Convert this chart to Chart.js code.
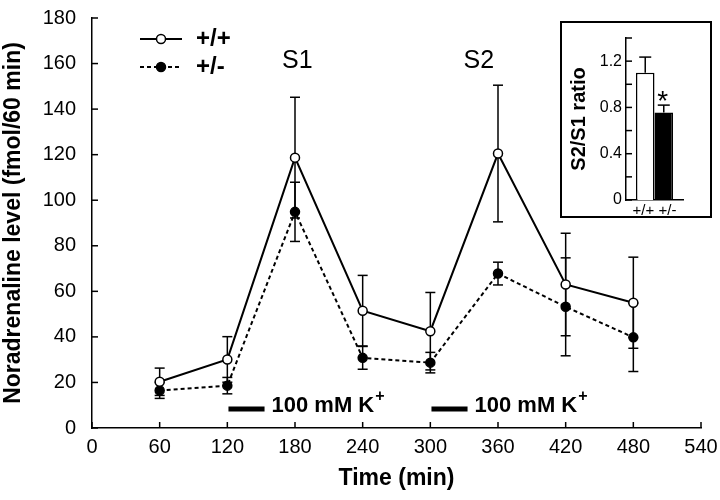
<!DOCTYPE html>
<html><head><meta charset="utf-8">
<script src="https://cdn.jsdelivr.net/npm/chart.js@4"></script>
<style>
html,body{margin:0;padding:0;background:#fff;}
#wrap{position:relative;width:720px;height:500px;overflow:hidden;}
#main{position:absolute;left:0;top:0;}
#inset{position:absolute;left:560px;top:21px;width:148px;height:193px;border:2px solid #000;background:#fff;}
#insetCanvas{position:absolute;left:0;top:0;}
</style></head><body>
<div id="wrap"><canvas id="main" width="720" height="500"></canvas>
<div id="inset"><canvas id="insetCanvas" width="148" height="193"></canvas></div></div>
<script>
// ---- data ----
const timeMin = [60, 120, 180, 240, 300, 360, 420, 480];
const wildType = [20.3, 30.1, 118.7, 51.5, 42.5, 120.5, 63, 55];       // +/+
const wildTypeErr = [6, 10, 26.5, 15.5, 17, 30, 22.5, 20];
const hetero = [16.5, 18.6, 94.9, 30.8, 28.7, 67.8, 53.2, 39.8];       // +/-
const heteroErr = [3.5, 3.6, 13, 5, 4.5, 5, 21.5, 15];
const seriesNames = ['+/+', '+/-'];
const xTicks = [0, 60, 120, 180, 240, 300, 360, 420, 480, 540];
const yTicks = [0, 20, 40, 60, 80, 100, 120, 140, 160, 180];
const peakLabels = ['S1', 'S2'];
const peakLabelTimes = [182, 343];
const peakLabelLevel = 160;
const kPulses = [[121, 153], [301, 333]];
const kPulseLevel = 8.3;
const kPulseText = '100 mM K';
// inset
const ratioGroups = ['+/+', '+/-'];
const ratioValues = [1.10, 0.756];
const ratioErr = [0.135, 0.064];
const ratioTicks = [0, 0.2, 0.4, 0.6, 0.8, 1.0, 1.2, 1.4];
const ratioLabelled = [0, 0.4, 0.8, 1.2];

const FONT = "'Liberation Sans', Arial, Helvetica, sans-serif";

const insideTicks = {
  id: 'insideTicks',
  afterDraw(chart, args, opts) {
    const ctx = chart.ctx; const ca = chart.chartArea;
    ctx.save(); ctx.strokeStyle = '#000'; ctx.lineWidth = 1.5;
    const xs = chart.scales.x, ys = chart.scales.y;
    if (opts.x) opts.x.forEach(v => { const p = xs.getPixelForValue(v); ctx.beginPath(); ctx.moveTo(p, ca.bottom); ctx.lineTo(p, ca.bottom - opts.len); ctx.stroke(); });
    if (opts.y) opts.y.forEach(v => { const p = ys.getPixelForValue(v); ctx.beginPath(); ctx.moveTo(ca.left, p); ctx.lineTo(ca.left + opts.len, p); ctx.stroke(); });
    ctx.restore();
  }
};

const errorBars = {
  id: 'errorBars',
  beforeDatasetsDraw(chart, args, opts) {
    const ctx = chart.ctx; const ys = chart.scales.y;
    ctx.save(); ctx.strokeStyle = '#000'; ctx.lineWidth = 1.5;
    chart.data.datasets.forEach((ds, di) => {
      const meta = chart.getDatasetMeta(di);
      const vals = ds.data.map(d => typeof d === 'object' ? d.y : d);
      ds.errors.forEach((e, i) => {
        const el = meta.data[i]; const x = el.x;
        const top = ys.getPixelForValue(vals[i] + e);
        const bot = opts.upOnly ? ys.getPixelForValue(vals[i]) : ys.getPixelForValue(vals[i] - e);
        ctx.beginPath(); ctx.moveTo(x, top); ctx.lineTo(x, bot); ctx.stroke();
        ctx.beginPath(); ctx.moveTo(x - opts.cap, top); ctx.lineTo(x + opts.cap, top); ctx.stroke();
        if (!opts.upOnly) { ctx.beginPath(); ctx.moveTo(x - opts.cap, bot); ctx.lineTo(x + opts.cap, bot); ctx.stroke(); }
      });
    });
    ctx.restore();
  }
};

const annotations = {
  id: 'annotations',
  afterDraw(chart) {
    const ctx = chart.ctx; const xs = chart.scales.x, ys = chart.scales.y; const ca = chart.chartArea;
    ctx.save(); ctx.fillStyle = '#000'; ctx.strokeStyle = '#000';
    // peak labels
    ctx.font = `25px ${FONT}`; ctx.textAlign = 'center'; ctx.textBaseline = 'middle';
    peakLabels.forEach((t, i) => ctx.fillText(t, xs.getPixelForValue(peakLabelTimes[i]), ys.getPixelForValue(peakLabelLevel) - 2));
    // K+ pulses
    kPulses.forEach(([a, b]) => {
      const y = ys.getPixelForValue(kPulseLevel);
      const x1 = xs.getPixelForValue(a), x2 = xs.getPixelForValue(b);
      ctx.lineWidth = 5; ctx.beginPath(); ctx.moveTo(x1, y); ctx.lineTo(x2, y); ctx.stroke();
      ctx.font = `bold 22px ${FONT}`; ctx.textAlign = 'left'; ctx.textBaseline = 'middle';
      ctx.fillText(kPulseText, x2 + 7, y - 3);
      const w = ctx.measureText(kPulseText).width;
      ctx.font = `bold 16px ${FONT}`;
      ctx.fillText('+', x2 + 8 + w, y - 13);
    });
    // legend
    const ds = chart.data.datasets;
    const lx = ca.left + 48, rows = [ca.top + 21, ca.top + 49];
    ds.forEach((d, i) => {
      const y = rows[i];
      ctx.lineWidth = 2; ctx.setLineDash(d.borderDash || []);
      ctx.beginPath(); ctx.moveTo(lx, y); ctx.lineTo(lx + 42, y); ctx.stroke();
      ctx.setLineDash([]);
      ctx.beginPath(); ctx.arc(lx + 21, y, 4.5, 0, Math.PI * 2);
      ctx.fillStyle = d.pointBackgroundColor; ctx.fill(); ctx.lineWidth = 1.5; ctx.stroke();
      ctx.fillStyle = '#000'; ctx.font = `bold 24px ${FONT}`; ctx.textAlign = 'left'; ctx.textBaseline = 'middle';
      ctx.fillText(d.label, lx + 56, y);
    });
    ctx.restore();
  }
};

new Chart(document.getElementById('main'), {
  type: 'line',
  data: {
    datasets: [
      { label: seriesNames[0], data: timeMin.map((t, i) => ({ x: t, y: wildType[i] })), errors: wildTypeErr,
        borderColor: '#000', borderWidth: 2, pointRadius: 4.5, pointBackgroundColor: '#fff', pointBorderColor: '#000', pointBorderWidth: 1.5, tension: 0 },
      { label: seriesNames[1], data: timeMin.map((t, i) => ({ x: t, y: hetero[i] })), errors: heteroErr,
        borderColor: '#000', borderWidth: 2, borderDash: [4, 3], pointRadius: 4.5, pointBackgroundColor: '#000', pointBorderColor: '#000', pointBorderWidth: 1.5, tension: 0 }
    ]
  },
  options: {
    responsive: false, animation: false,
    layout: { padding: { top: 18, right: 19, left: 0, bottom: 0 } },
    plugins: { legend: { display: false }, tooltip: { enabled: false }, insideTicks: { x: xTicks, y: yTicks, len: 6 }, errorBars: { cap: 5 } },
    scales: {
      x: { type: 'linear', min: 0, max: 540, afterBuildTicks(s) { s.ticks = xTicks.map(v => ({ value: v })); },
        ticks: { color: '#000', font: { family: FONT, size: 20 }, padding: 7, maxRotation: 0, autoSkip: false },
        grid: { display: false, drawTicks: false }, border: { display: true, color: '#000', width: 1.5 },
        title: { display: true, text: 'Time (min)', color: '#000', font: { family: FONT, size: 23, weight: 'bold' }, padding: { top: 0, bottom: 8 } },
        afterFit(s) { s.height = 72; s.paddingLeft = 0; s.paddingRight = 0; } },
      y: { min: 0, max: 180, afterBuildTicks(s) { s.ticks = yTicks.map(v => ({ value: v })); },
        ticks: { color: '#000', font: { family: FONT, size: 20 }, padding: 16, autoSkip: false },
        grid: { display: false, drawTicks: false }, border: { display: true, color: '#000', width: 1.5 },
        title: { display: true, text: 'Noradrenaline level (fmol/60 min)', color: '#000', font: { family: FONT, size: 23, weight: 'bold' }, padding: 0 },
        afterFit(s) { s.width = 92; s.paddingTop = 0; s.paddingBottom = 0; } }
    }
  },
  plugins: [insideTicks, errorBars, annotations]
});

const asterisk = {
  id: 'asterisk',
  afterDraw(chart) {
    const ctx = chart.ctx; const ys = chart.scales.y;
    const el = chart.getDatasetMeta(1).data[0];
    ctx.save(); ctx.fillStyle = '#000'; ctx.font = `28px ${FONT}`; ctx.textAlign = 'center'; ctx.textBaseline = 'alphabetic';
    ctx.fillText('*', el.x - 1, ys.getPixelForValue(ratioValues[1] + ratioErr[1]) + 5);
    ctx.restore();
  }
};

new Chart(document.getElementById('insetCanvas'), {
  type: 'bar',
  data: {
    labels: [ratioGroups.join(' ')],
    datasets: [
      { data: [ratioValues[0]], errors: [ratioErr[0]], backgroundColor: '#fff', borderColor: '#000', borderWidth: 1.5, categoryPercentage: 0.65, barPercentage: 1 },
      { data: [ratioValues[1]], errors: [ratioErr[1]], backgroundColor: '#000', borderColor: '#000', borderWidth: 1.5, categoryPercentage: 0.65, barPercentage: 1 }
    ]
  },
  options: {
    responsive: false, animation: false,
    layout: { padding: { top: 15, right: 27, left: 0, bottom: 0 } },
    plugins: { legend: { display: false }, tooltip: { enabled: false }, insideTicks: { y: ratioTicks, len: 6 }, errorBars: { cap: 6, upOnly: true } },
    scales: {
      x: { grid: { display: false, drawTicks: false }, border: { display: true, color: '#000', width: 1.5 },
        ticks: { color: '#000', font: { family: FONT, size: 15 }, padding: 2 }, afterFit(s) { s.height = 16; s.paddingLeft = 0; s.paddingRight = 0; } },
      y: { min: 0, max: 1.4, afterBuildTicks(s) { s.ticks = ratioTicks.map(v => ({ value: v })); },
        ticks: { color: '#000', font: { family: FONT, size: 16 }, padding: 4, autoSkip: false,
          callback: v => ratioLabelled.some(l => Math.abs(l - v) < 1e-6) ? (v === 0 ? '0' : v.toFixed(1)) : '' },
        grid: { display: false, drawTicks: false }, border: { display: true, color: '#000', width: 1.5 },
        title: { display: true, text: 'S2/S1 ratio', color: '#000', font: { family: FONT, size: 20, weight: 'bold' }, padding: { top: 5, bottom: 0 } },
        afterFit(s) { s.width = 64; s.paddingTop = 0; s.paddingBottom = 0; } }
    }
  },
  plugins: [insideTicks, errorBars, asterisk]
});
</script>
</body></html>
